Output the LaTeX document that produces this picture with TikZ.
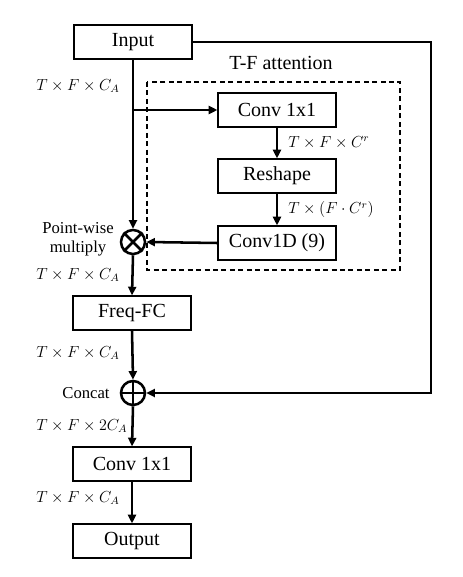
\documentclass[tikz,border=0pt]{standalone}
\usepackage{fontspec}
\setmainfont{Liberation Serif}
\usetikzlibrary{arrows.meta}

\begin{document}
\begin{tikzpicture}[
        x=0.75pt, y=-0.75pt,
        blk/.style={
            rectangle,
            draw=black,
            line width=1.4pt,
            minimum width=88pt,
            minimum height=25pt,
            inner sep=0pt,
            font=\fontsize{15}{18}\selectfont
        },
        op/.style={
            circle,
            draw=black,
            line width=1.9pt,
            minimum size=18pt,
            inner sep=0pt
        },
        dim/.style={
            anchor=west,
            inner sep=0pt,
            font=\fontsize{12}{14}\selectfont
        },
        oplabel/.style={
            align=center,
            inner sep=0pt,
            font=\fontsize{12.5}{14.5}\selectfont
        },
        arr/.style={
            line width=1.9pt,
            -{Triangle[length=6.5pt,width=6pt]}
        }
    ]
        \useasboundingbox (0,0) rectangle (462,577);

        % Blocchi principali (colonna di sinistra)
        \node[blk] (input)  at (133,42)  {Input};
        \node[blk] (freqfc) at (132,313) {Freq-FC};
        \node[blk] (convB)  at (132,464) {Conv 1x1};
        \node[blk] (output) at (132,541) {Output};

        % Blocchi dell'attenzione T-F
        \node[blk] (convA)   at (277,110) {Conv 1x1};
        \node[blk] (reshape) at (277,176) {Reshape};
        \node[blk] (convD)   at (277,243) {Conv1D (9)};

        % Riquadro tratteggiato
        \draw[line width=1.1pt, dash pattern=on 3.75pt off 2.6pt] (147,82) rectangle (400,270);
        \node[inner sep=0pt, font=\fontsize{15}{18}\selectfont] (tftitle) at (281,63) {T-F attention};

        % Operatori
        \node[op] (mult)   at (133,242) {};
        \node[op] (concat) at (133,393) {};
        \draw[line width=1.9pt] (mult.45) -- (mult.225) (mult.135) -- (mult.315);
        \draw[line width=1.9pt] (concat.north) -- (concat.south) (concat.west) -- (concat.east);
        \node[oplabel] (multlbl)   at (78,239) {Point-wise\\multiply};
        \node[oplabel] (concatlbl) at (86,393) {Concat};

        % Dimensioni
        \node[dim] (d1) at (36,86)  {$T\times F\times C_A$};
        \node[dim] (d2) at (288,143) {$T\times F\times C^r$};
        \node[dim] (d3) at (288,210) {$T\times (F\cdot C^r)$};
        \node[dim] (d4) at (36,275) {$T\times F\times C_A$};
        \node[dim] (d5) at (36,353) {$T\times F\times C_A$};
        \node[dim] (d6) at (36,426) {$T\times F\times 2C_A$};
        \node[dim] (d7) at (36,498) {$T\times F\times C_A$};

        % Collegamenti
        \coordinate (split) at (input.south |- convA.west);
        \coordinate (corner) at (431,42);
        \draw[arr] (input.south) -- (mult.north);
        \draw[arr] (split) -- (convA.west);
        \draw[arr] (convA.south) -- (reshape.north);
        \draw[arr] (reshape.south) -- (convD.north);
        \draw[arr] (convD.west) -- (mult.east);
        \draw[arr] (mult.south) -- (freqfc.north);
        \draw[arr] (freqfc.south) -- (concat.north);
        \draw[arr] (concat.south) -- (convB.north);
        \draw[arr] (convB.south) -- (output.north);
        \draw[arr] (input.east) -- (corner) |- (concat.east);
    \end{tikzpicture}
\end{document}
